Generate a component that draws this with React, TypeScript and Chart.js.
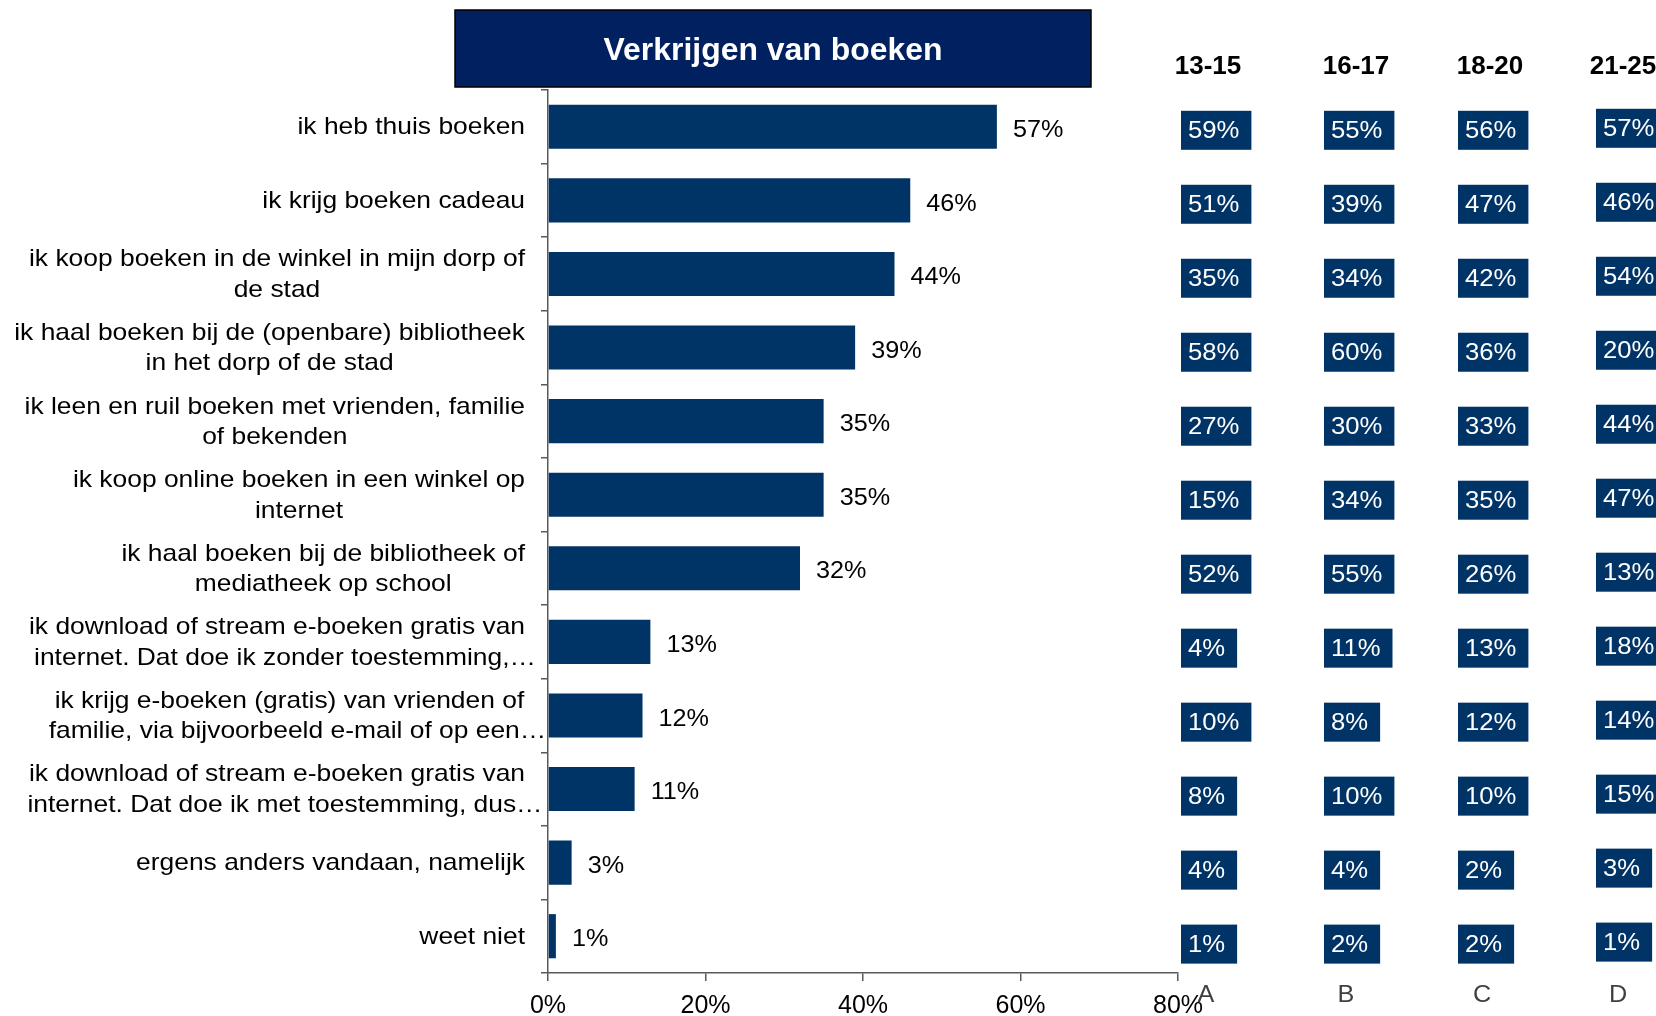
import React, { useEffect, useRef } from 'react';
import { Chart, registerables } from 'chart.js';

Chart.register(...registerables);

const titleText = 'Verkrijgen van boeken';

const categories: string[][] = [
  ['ik heb thuis boeken'],
  ['ik krijg boeken cadeau'],
  ['ik koop boeken in de winkel in mijn dorp of', 'de stad'],
  ['ik haal boeken bij de (openbare) bibliotheek', 'in het dorp of de stad'],
  ['ik leen en ruil boeken met vrienden, familie', 'of bekenden'],
  ['ik koop online boeken in een winkel op', 'internet'],
  ['ik haal boeken bij de bibliotheek of', 'mediatheek op school'],
  ['ik download of stream e-boeken gratis van', 'internet. Dat doe ik zonder toestemming,…'],
  ['ik krijg e-boeken (gratis) van vrienden of', 'familie, via bijvoorbeeld e-mail of op een…'],
  ['ik download of stream e-boeken gratis van', 'internet. Dat doe ik met toestemming, dus…'],
  ['ergens anders vandaan, namelijk'],
  ['weet niet'],
];

const totalValues = [57, 46, 44, 39, 35, 35, 32, 13, 12, 11, 3, 1];

const groupHeaders = ['13-15', '16-17', '18-20', '21-25'];
const groupLetters = ['A', 'B', 'C', 'D'];
const group1315 = [59, 51, 35, 58, 27, 15, 52, 4, 10, 8, 4, 1];
const group1617 = [55, 39, 34, 60, 30, 34, 55, 11, 8, 10, 4, 2];
const group1820 = [56, 47, 42, 36, 33, 35, 26, 13, 12, 10, 2, 2];
const group2125 = [57, 46, 54, 20, 44, 47, 13, 18, 14, 15, 3, 1];
const groupValues = [group1315, group1617, group1820, group2125];

const xTickValues = [0, 20, 40, 60, 80];

const FONT = '"Liberation Sans", Arial, Helvetica, sans-serif';
const BAR_COLOR = '#003366';
const AXIS_COLOR = '#595959';

// layout constants (pixels)
const colBoxLeft = [1181, 1324, 1458, 1596];
const colHeaderX = [1208, 1356, 1490, 1623];
const colLetterX = [1206, 1346, 1482, 1618];
const colBoxDy = [3.5, 3.5, 3.5, 1.5];

function drawText(
  ctx: CanvasRenderingContext2D,
  text: string,
  x: number,
  y: number,
  align: 'left' | 'center' | 'right',
  sx: number
) {
  const w = ctx.measureText(text).width * sx;
  const left = align === 'left' ? x : align === 'right' ? x - w : x - w / 2;
  ctx.save();
  ctx.translate(left, y);
  ctx.scale(sx, 1);
  ctx.textAlign = 'left';
  ctx.fillText(text, 0, 0);
  ctx.restore();
  return w;
}

const overlayPlugin = {
  id: 'overlay',
  afterDraw(chart: any) {
    const ctx: CanvasRenderingContext2D = chart.ctx;
    const yScale = chart.scales.y;
    ctx.save();

    // Title box
    const tx0 = 455, tx1 = 1091, ty0 = 10, ty1 = 87;
    ctx.fillStyle = '#002060';
    ctx.fillRect(tx0, ty0, tx1 - tx0, ty1 - ty0);
    ctx.strokeStyle = '#000000';
    ctx.lineWidth = 1.5;
    ctx.strokeRect(tx0, ty0, tx1 - tx0, ty1 - ty0);
    ctx.fillStyle = '#ffffff';
    ctx.font = `bold 31px ${FONT}`;
    ctx.textBaseline = 'middle';
    drawText(ctx, titleText, (tx0 + tx1) / 2, 51.5, 'center', 1.03);

    // Category labels (right-aligned blocks, centered lines)
    ctx.font = `24px ${FONT}`;
    ctx.fillStyle = '#000000';
    ctx.textBaseline = 'middle';
    const sxLabel = 1.1;
    const labelRight = yScale.right - 7 - 16;
    categories.forEach((lines, i) => {
      const cy = yScale.getPixelForValue(i) + 1;
      const widths = lines.map((l) => ctx.measureText(l.replace(/…$/, '')).width * sxLabel);
      const maxW = Math.max(...widths);
      const cx = labelRight - maxW / 2;
      lines.forEach((l, j) => {
        const ly = cy + (j - (lines.length - 1) / 2) * 30.5;
        const shift = /…$/.test(l) ? 8 : 0;
        drawText(ctx, l, cx + shift, ly, 'center', sxLabel);
      });
    });

    // Value labels next to bars
    const meta = chart.getDatasetMeta(0);
    meta.data.forEach((bar: any, i: number) => {
      drawText(ctx, totalValues[i] + '%', bar.x + 16, bar.y + 3.5, 'left', 1.05);
    });

    // Group column headers
    ctx.font = `bold 26px ${FONT}`;
    ctx.fillStyle = '#000000';
    groupHeaders.forEach((h, k) => {
      drawText(ctx, h, colHeaderX[k], 67, 'center', 1.0);
    });

    // Group boxes
    ctx.font = `24px ${FONT}`;
    const sxBox = 1.07;
    groupValues.forEach((vals, k) => {
      vals.forEach((v, i) => {
        const cy = yScale.getPixelForValue(i) + colBoxDy[k] + i * 0.4;
        const txt = v + '%';
        const w = ctx.measureText(txt).width * sxBox;
        const bw = w + 19;
        const bh = 39;
        ctx.fillStyle = BAR_COLOR;
        ctx.fillRect(colBoxLeft[k], cy - bh / 2, bw, bh);
        ctx.fillStyle = '#ffffff';
        drawText(ctx, txt, colBoxLeft[k] + 7, cy + 1, 'left', sxBox);
      });
    });

    // Group letters
    ctx.fillStyle = '#404040';
    groupLetters.forEach((l, k) => {
      drawText(ctx, l, colLetterX[k], 995, 'center', 1.05);
    });

    ctx.restore();
  },
};

export default function App() {
  const canvasRef = useRef<HTMLCanvasElement | null>(null);

  useEffect(() => {
    const canvas = canvasRef.current;
    if (!canvas) return;
    const chart = new Chart(canvas, {
      type: 'bar',
      data: {
        labels: categories.map((c) => c.join(' ')),
        datasets: [
          {
            data: totalValues,
            backgroundColor: BAR_COLOR,
            borderWidth: 0,
            barPercentage: 0.6,
            categoryPercentage: 1,
          },
        ],
      },
      options: {
        indexAxis: 'y',
        responsive: false,
        animation: false,
        events: [],
        layout: { padding: { left: 0, right: 478, top: 90, bottom: 0 } },
        plugins: {
          legend: { display: false },
          tooltip: { enabled: false },
          title: { display: false },
        },
        scales: {
          x: {
            type: 'linear',
            min: 0,
            max: 80,
            afterBuildTicks: (scale: any) => {
              scale.ticks = xTickValues.map((v) => ({ value: v }));
            },
            ticks: {
              callback: (v: any) => v + '%',
              font: { family: FONT, size: 25 },
              color: '#000000',
              padding: 10,
              maxRotation: 0,
              autoSkip: false,
            },
            grid: {
              drawOnChartArea: false,
              tickLength: 8,
              color: AXIS_COLOR,
              lineWidth: 1.5,
            },
            border: { color: AXIS_COLOR, width: 1.5 },
            afterFit: (scale: any) => {
              scale.height = 43;
            },
          },
          y: {
            type: 'category',
            ticks: { display: false },
            grid: {
              drawOnChartArea: false,
              tickLength: 7,
              color: AXIS_COLOR,
              lineWidth: 1.5,
              offset: true,
            },
            border: { color: AXIS_COLOR, width: 1.5 },
            afterFit: (scale: any) => {
              scale.width = 548;
            },
          },
        },
      } as any,
      plugins: [overlayPlugin],
    });
    return () => chart.destroy();
  }, []);

  return (
    <div style={{ position: 'fixed', left: 0, top: 0, width: 1656, height: 1016, background: '#ffffff' }}>
      <canvas ref={canvasRef} width={1656} height={1016} style={{ display: 'block' }} />
    </div>
  );
}
